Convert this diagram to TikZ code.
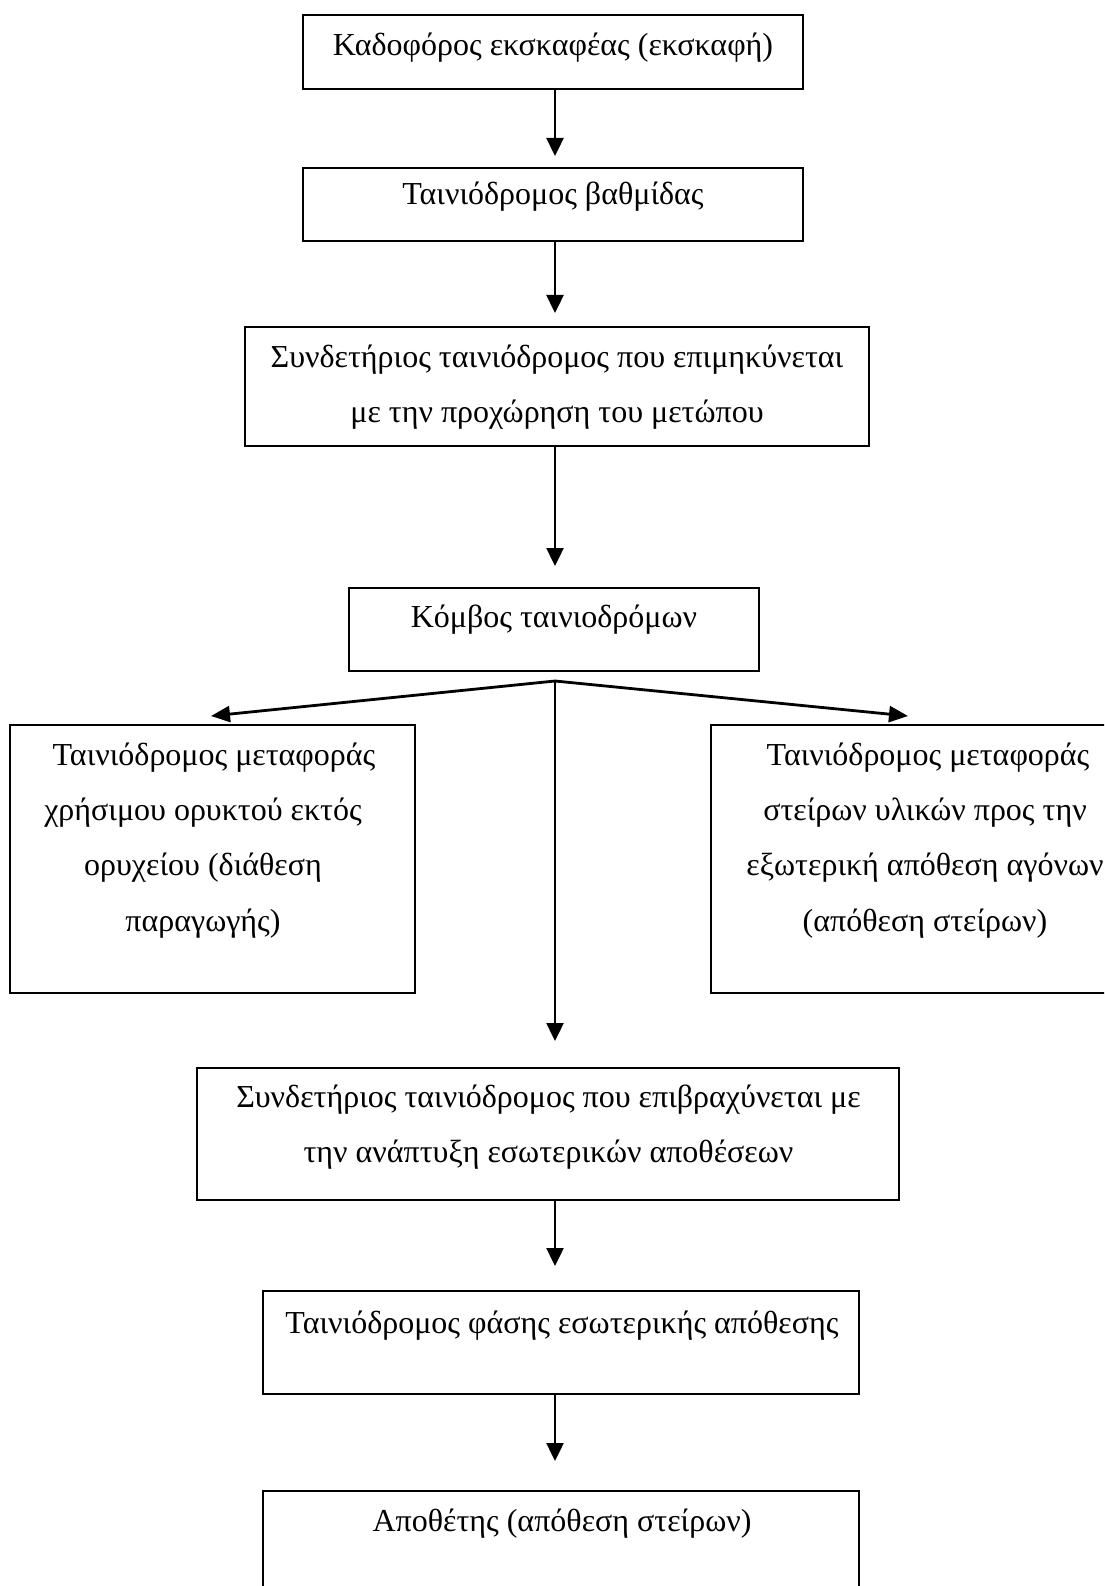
\documentclass[tikz,border=0pt]{standalone}
\usepackage{fontspec}
\setmainfont{Liberation Serif}
\usetikzlibrary{arrows.meta}
\begin{document}
\begin{tikzpicture}[x=1pt,y=-1pt,
  box/.style={draw, line width=2pt, rectangle, inner sep=0pt},
  txt/.style={anchor=base, inner sep=0pt, font=\fontsize{32}{40}\selectfont},
  arr/.style={line width=2.4pt, -{Triangle[length=18pt,width=17pt]}},
  fan/.style={line width=2.8pt, -{Triangle[length=19pt,width=16pt]}}]
\useasboundingbox (0,0) rectangle (1104,1586);
\fill[white] (0,0) rectangle (1104,1586);
\clip (0,0) rectangle (1104,1586);

% boxes
\node[box, minimum width=500pt, minimum height=74pt]  (b1) at (553,52) {};
\node[box, minimum width=500pt, minimum height=73pt]  (b2) at (553,204.5) {};
\node[box, minimum width=624pt, minimum height=119pt] (b3) at (557,386.5) {};
\node[box, minimum width=410pt, minimum height=83pt]  (b4) at (554,629.5) {};
\node[box, minimum width=405pt, minimum height=268pt] (lb) at (212.5,859) {};
\node[box, minimum width=434pt, minimum height=268pt] (rb) at (928,859) {};
\node[box, minimum width=702pt, minimum height=132pt] (b5) at (548,1134) {};
\node[box, minimum width=596pt, minimum height=103pt] (b6) at (561,1342.5) {};
\node[box, minimum width=596pt, minimum height=149pt] (b7) at (561,1565.5) {};

% texts
\node[txt] (t1) at (553,56) {Καδοφόρος εκσκαφέας (εκσκαφή)};
\node[txt] (t2) at (553,205) {Ταινιόδρομος βαθμίδας};
\node[txt] (t3a) at (557,367) {Συνδετήριος ταινιόδρομος που επιμηκύνεται};
\node[txt] (t3b) at (557,422) {με την προχώρηση του μετώπου};
\node[txt] (t4) at (554,627) {Κόμβος ταινιοδρόμων};
\node[txt] (tla) at (214,765) {Ταινιόδρομος μεταφοράς};
\node[txt] (tlb) at (203,820) {χρήσιμου ορυκτού εκτός};
\node[txt] (tlc) at (203,875) {ορυχείου (διάθεση};
\node[txt] (tld) at (203,931) {παραγωγής)};
\node[txt] (tra) at (928,765) {Ταινιόδρομος μεταφοράς};
\node[txt] (trb) at (925,820) {στείρων υλικών προς την};
\node[txt] (trc) at (925,875) {εξωτερική απόθεση αγόνων};
\node[txt] (trd) at (925,931) {(απόθεση στείρων)};
\node[txt] (t5a) at (548.5,1107) {Συνδετήριος ταινιόδρομος που επιβραχύνεται με};
\node[txt] (t5b) at (548.5,1162) {την ανάπτυξη εσωτερικών αποθέσεων};
\node[txt] (t6) at (562,1333) {Ταινιόδρομος φάσης εσωτερικής απόθεσης};
\node[txt] (t7) at (562,1531) {Αποθέτης (απόθεση στείρων)};

% connectors
\coordinate (fork) at (555,681);
\draw[arr, shorten >=11pt] (b1.south -| fork) -- (b2.north -| fork);
\draw[arr, shorten >=13pt] (b2.south -| fork) -- (b3.north -| fork);
\draw[arr, shorten >=21pt] (b3.south -| fork) -- (b4.north -| fork);
\draw[fan] (fork) -- ([xshift=-1.5pt,yshift=8pt]lb.north);
\draw[fan] (fork) -- ([xshift=-20pt,yshift=8pt]rb.north);
\draw[arr, shorten >=26pt] (fork) -- (b5.north -| fork);
\draw[arr, shorten >=24pt] (b5.south -| fork) -- (b6.north -| fork);
\draw[arr, shorten >=29pt] (b6.south -| fork) -- (b7.north -| fork);
\end{tikzpicture}
\end{document}
